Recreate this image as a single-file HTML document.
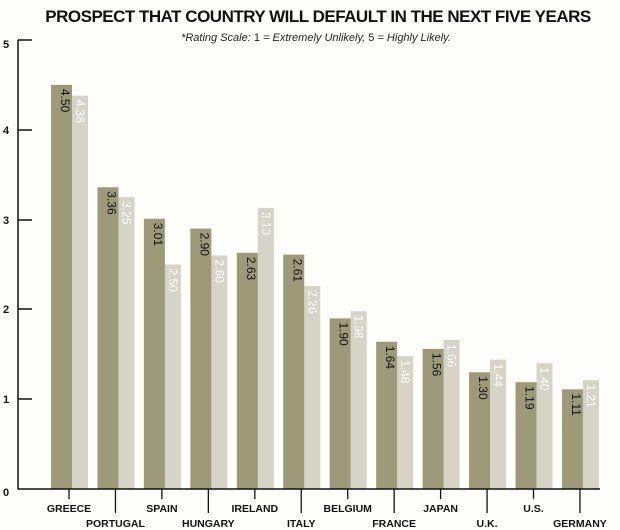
<!DOCTYPE html>
<html><head><meta charset="utf-8"><style>
body{margin:0;background:#fdfdf9;}
svg{display:block;font-family:"Liberation Sans",sans-serif;}
</style></head><body>
<svg width="620" height="530" viewBox="0 0 620 530" xmlns="http://www.w3.org/2000/svg">
<rect width="620" height="530" fill="#fdfdf9"/>
<text x="318" y="22" text-anchor="middle" font-size="17" font-weight="bold" fill="#111" letter-spacing="-0.5">PROSPECT THAT COUNTRY WILL DEFAULT IN THE NEXT FIVE YEARS</text>
<text x="316" y="41" text-anchor="middle" font-size="11" fill="#222"><tspan font-style="italic">*Rating Scale: </tspan>1<tspan font-style="italic"> = Extremely Unlikely, </tspan>5<tspan font-style="italic"> = Highly Likely.</tspan></text>
<g id="bars"></g>
<g stroke="#111" stroke-width="1.5" fill="none">
<path d="M18 40V489H600"/>
<path d="M18 40H32M18 130H32M18 220H32M18 309H32M18 399H32"/>
</g>
<g font-size="11" font-weight="bold" fill="#111">
<text x="3" y="48">5</text><text x="3" y="134">4</text><text x="3" y="224">3</text><text x="3" y="313">2</text><text x="3" y="403">1</text><text x="3" y="496">0</text>
</g>
<g id="xl" font-size="10.5" font-weight="bold" fill="#111" text-anchor="middle"></g>
<script>
var d=[4.50,3.36,3.01,2.90,2.63,2.61,1.90,1.64,1.56,1.30,1.19,1.11];
var l=[4.38,3.25,2.50,2.60,3.13,2.26,1.98,1.48,1.66,1.44,1.40,1.21];
var n=["GREECE","PORTUGAL","SPAIN","HUNGARY","IRELAND","ITALY","BELGIUM","FRANCE","JAPAN","U.K.","U.S.","GERMANY"];
var ns="http://www.w3.org/2000/svg",g=document.getElementById("bars"),xl=document.getElementById("xl");
function el(t,a,p,txt){var e=document.createElementNS(ns,t);for(var k in a)e.setAttribute(k,a[k]);if(txt)e.textContent=txt;p.appendChild(e);return e;}
var base=489,u=89.8;
for(var i=0;i<12;i++){
 var x=51+i*46.45;
 var hd=d[i]*u,hl=l[i]*u;
 el("rect",{x:x+21,y:base-hl,width:16,height:hl,fill:"#d6d4c7"},g);
 el("rect",{x:x,y:base-hd,width:21,height:hd,fill:"#9c9a78"},g);
 el("text",{x:0,y:0,"font-size":12,fill:"#111",transform:"translate("+(x+10)+","+(base-hd+4)+") rotate(90)"},g,d[i].toFixed(2));
 el("text",{x:0,y:0,"font-size":12,fill:"#fff",transform:"translate("+(x+25)+","+(base-hl+4)+") rotate(90)"},g,l[i].toFixed(2));
 var tx=x+18,odd=i%2==1;
 el("line",{x1:tx,y1:489,x2:tx,y2:odd?513:499,stroke:"#111","stroke-width":1.3},g);
 el("text",{x:tx,y:odd?527:512},xl,n[i]);
}
</script>
</svg>
</body></html>
